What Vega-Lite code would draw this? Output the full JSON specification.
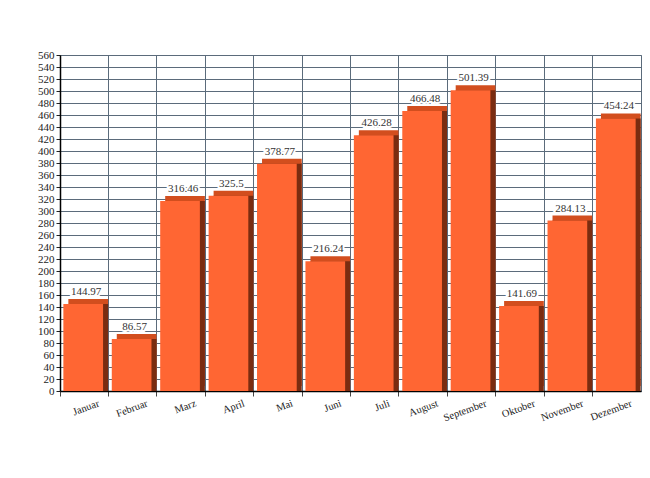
{
  "$schema": "https://vega.github.io/schema/vega-lite/v6.json",
  "width": 581,
  "height": 336,
  "autosize": {"type": "none"},
  "padding": {"left": 60, "top": 55, "right": 9, "bottom": 87},
  "background": "white",
  "config": {"view": {"stroke": "#5b6b7b", "strokeWidth": 1}, "font": "Liberation Serif"},
  "data": {"values": [
    {"month": "Januar", "value": 144.97},
    {"month": "Februar", "value": 86.57},
    {"month": "Marz", "value": 316.46},
    {"month": "April", "value": 325.5},
    {"month": "Mai", "value": 378.77},
    {"month": "Juni", "value": 216.24},
    {"month": "Juli", "value": 426.28},
    {"month": "August", "value": 466.48},
    {"month": "September", "value": 501.39},
    {"month": "Oktober", "value": 141.69},
    {"month": "November", "value": 284.13},
    {"month": "Dezember", "value": 454.24}
  ]},
  "encoding": {
    "x": {
      "field": "month", "type": "nominal", "sort": null,
      "scale": {"paddingInner": 0, "paddingOuter": 0},
      "axis": {
        "title": null, "bandPosition": 0, "grid": true, "gridColor": "#5b6b7b", "gridWidth": 1,
        "ticks": true, "tickSize": 5, "tickColor": "#444",
        "labelAngle": -20, "labelAlign": "right", "labelBaseline": "top", "labelOffset": 13, "labelPadding": 2,
        "labelFont": "Liberation Serif", "labelFontSize": 10.5, "labelColor": "#222",
        "domainColor": "black", "domainWidth": 1.5
      }
    },
    "y": {
      "field": "value", "type": "quantitative",
      "scale": {"domain": [0, 560], "nice": false},
      "axis": {
        "title": null,
        "values": [0,20,40,60,80,100,120,140,160,180,200,220,240,260,280,300,320,340,360,380,400,420,440,460,480,500,520,540,560],
        "grid": true, "gridColor": "#5b6b7b", "gridWidth": 1,
        "tickSize": 4, "tickColor": "#222",
        "labelFont": "Liberation Serif", "labelFontSize": 11, "labelColor": "#222", "labelPadding": 2,
        "domainColor": "black", "domainWidth": 1.5
      }
    }
  },
  "layer": [
    {"mark": {"type": "bar", "color": "#d24e1e", "width": {"band": 0.82}, "xOffset": 4, "yOffset": -5, "y2Offset": -5}},
    {"mark": {"type": "bar", "color": "#7a2c10", "width": {"band": 0.82}, "xOffset": 4, "yOffset": 0, "y2Offset": -1}},
    {"mark": {"type": "bar", "color": "#ff6633", "width": {"band": 0.82}, "xOffset": -1}},
    {"mark": {"type": "text", "baseline": "bottom", "dy": -7, "dx": 2, "fontSize": 11, "font": "Liberation Serif", "stroke": "white", "strokeWidth": 4, "color": "white"},
     "encoding": {"text": {"field": "value", "type": "nominal"}}},
    {"mark": {"type": "text", "baseline": "bottom", "dy": -7, "dx": 2, "fontSize": 11, "font": "Liberation Serif", "color": "#333"},
     "encoding": {"text": {"field": "value", "type": "nominal"}}}
  ]
}
